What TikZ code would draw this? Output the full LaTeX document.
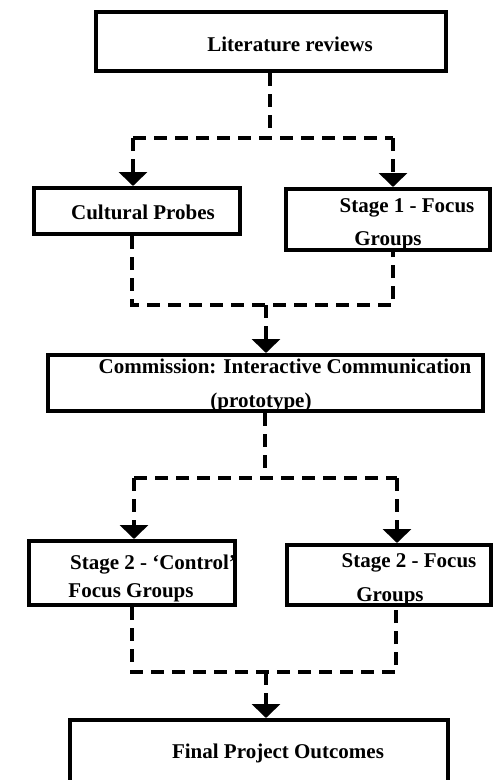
\documentclass[tikz,border=0pt]{standalone}
\usepackage{fontspec}
\setmainfont{Liberation Serif}
\usetikzlibrary{arrows.meta}
\tikzset{
  box/.style={draw=black, line width=4pt, fill=white, inner sep=0pt, rectangle},
  lbl/.style={anchor=base, inner sep=0pt, font=\bfseries\fontsize{21}{24}\selectfont},
  dashline/.style={line width=3.5pt, dash pattern=on 13pt off 8pt},
  arr/.style={dashline, -{Triangle[width=28pt,length=14pt]}}
}
\begin{document}
\begin{tikzpicture}[x=1pt,y=-1pt]
\useasboundingbox (0,0) rectangle (494,780);
% boxes
\node[box, minimum width=350pt, minimum height=59pt] (lit) at (271,41.5) {};
\node[box, minimum width=206pt, minimum height=46pt] (cp) at (137,211) {};
\node[box, minimum width=204pt, minimum height=61pt] (fg1) at (388,219.5) {};
\node[box, minimum width=435pt, minimum height=56pt] (com) at (265.5,383) {};
\node[box, minimum width=206pt, minimum height=64pt] (cfg) at (132,573) {};
\node[box, minimum width=204pt, minimum height=60pt] (fg2) at (389,575) {};
\node[box, minimum width=378pt, minimum height=80pt] (fin) at (259,760) {};
% texts
\node[lbl] (tlit) at (290,51) {Literature reviews};
\node[lbl] (tcp) at (143,219) {Cultural Probes};
\node[lbl] (tfg1a) at (407,212) {Stage 1 - Focus};
\node[lbl] (tfg1b) at (388,245) {Groups};
\node[lbl] (tcoma) at (285,373) {Commission: Interactive Communication};
\node[lbl] (tcomb) at (261,407) {(prototype)};
\node[lbl] (tcfga) at (153,569) {Stage 2 - `Control'};
\node[lbl] (tcfgb) at (131,597) {Focus Groups};
\node[lbl] (tfg2a) at (409,567) {Stage 2 - Focus};
\node[lbl] (tfg2b) at (390,601) {Groups};
\node[lbl] (tfin) at (278,758) {Final Project Outcomes};
% junction coordinates
\coordinate (j1) at (270,138);
\coordinate (j1l) at (133,138);
\coordinate (j1r) at (393,138);
\coordinate (j2l) at (132,305);
\coordinate (j2r) at (393,305);
\coordinate (j2) at (266,305);
\coordinate (j3) at (265,478);
\coordinate (j3l) at (134,478);
\coordinate (j3r) at (397,478);
\coordinate (j4l) at (132,672);
\coordinate (j4r) at (396,672);
\coordinate (j4) at (266,672);
% connectors
\draw[dashline] (lit.south -| j1) -- (j1);
\draw[dashline] (j1l) -- (j1r);
\draw[arr] (j1l) -- (cp.north -| j1l);
\draw[arr] (j1r) -- (fg1.north -| j1r);
\draw[dashline] (cp.south -| j2l) -- (j2l) -- (j2r) -- (fg1.south -| j2r);
\draw[arr] (j2) -- (com.north -| j2);
\draw[dashline] (com.south -| j3) -- (j3);
\draw[dashline] (j3l) -- (j3r);
\draw[arr] (j3l) -- (cfg.north -| j3l);
\draw[arr] (j3r) -- (fg2.north -| j3r);
\draw[dashline] (cfg.south -| j4l) -- (j4l) -- (j4r) -- (fg2.south -| j4r);
\draw[arr] (j4) -- (fin.north -| j4);
\end{tikzpicture}
\end{document}
